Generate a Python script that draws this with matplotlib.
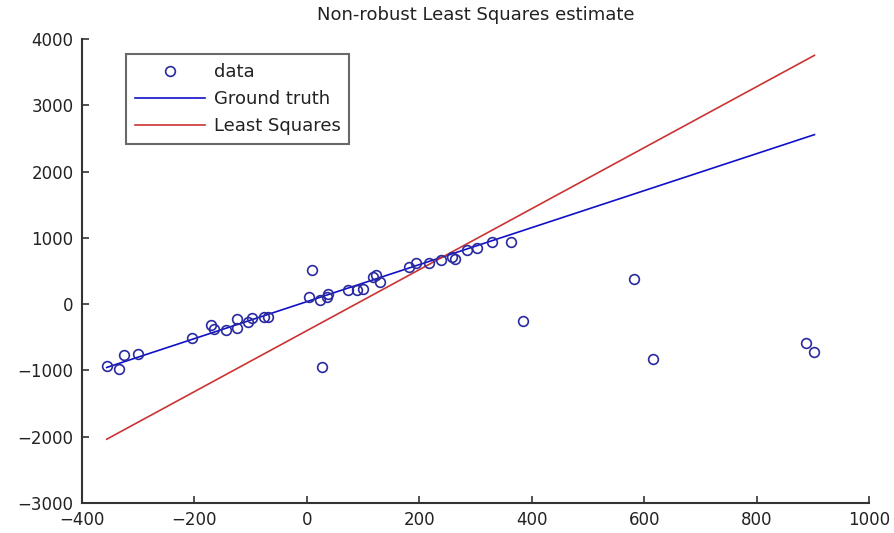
import numpy as np
import matplotlib
matplotlib.use("Agg")
import matplotlib.pyplot as plt

# Observed samples: inliers along the true line plus a handful of outliers
x_data = [-356, -335, -325, -300, -204, -170, -165, -143, -124, -125,
          -104, -98, -77, -70, 4, 23, 38, 35, 74, 89, 100, 118, 123, 130,
          182, 194, 217, 239, 258, 264, 285, 303, 329, 363,
          9, 27, 385, 582, 615, 888, 903]
y_data = [-931, -980, -765, -750, -517, -320, -380, -392, -226, -367,
          -267, -216, -192, -192, 101, 60, 151, 101, 211, 211, 222, 412, 437, 336,
          558, 618, 618, 664, 709, 679, 814, 845, 935, 935,
          513, -950, -252, 377, -830, -584, -719]

# Line models: slope, intercept
truth_coef = (2.79, 38.0)
lsq_coef = (4.60, -400.0)

x_ticks = [-400, -200, 0, 200, 400, 600, 800, 1000]
y_ticks = [-3000, -2000, -1000, 0, 1000, 2000, 3000, 4000]

plt.rcParams['font.family'] = ['DejaVu Sans']

fig = plt.figure(figsize=(8.94, 5.33), dpi=100)
ax = fig.add_axes([82 / 894, 1 - 503 / 533, 787 / 894, 464 / 533])

xs = np.array([min(x_data), max(x_data)])
ax.plot(x_data, y_data, linestyle='none', marker='o', markersize=7,
        markerfacecolor='none', markeredgecolor='#2a2aa0', markeredgewidth=1.2,
        label='data', zorder=3)
ax.plot(xs, truth_coef[0] * xs + truth_coef[1], color='#1010c8', lw=1.2,
        label='Ground truth', zorder=2)
ax.plot(xs, lsq_coef[0] * xs + lsq_coef[1], color='#cc3333', lw=1.2,
        label='Least Squares', zorder=2)

ax.set_xlim(-400, 1000)
ax.set_ylim(-3000, 4000)
ax.set_xticks(x_ticks)
ax.set_yticks(y_ticks)
ax.spines['top'].set_visible(False)
ax.spines['right'].set_visible(False)
for s in ('left', 'bottom'):
    ax.spines[s].set_linewidth(1.5)
    ax.spines[s].set_color('#333333')
ax.tick_params(direction='in', length=5, width=1.2, colors='#333333',
               labelsize=12, labelcolor='#222222', pad=6)

ax.set_title('Non-robust Least Squares estimate', fontsize=13, color='#222222', pad=14)

leg = ax.legend(loc='upper left', bbox_to_anchor=(0.0559, 0.9677), borderaxespad=0,
                fontsize=13, frameon=True, fancybox=False, handlelength=3.9,
                handletextpad=0.45, labelspacing=0.5, borderpad=0.5)
leg.get_frame().set_edgecolor('#444444')
leg.get_frame().set_linewidth(1.5)
for t in leg.get_texts():
    t.set_color('#222222')

fig.savefig('out.png', dpi=100)
